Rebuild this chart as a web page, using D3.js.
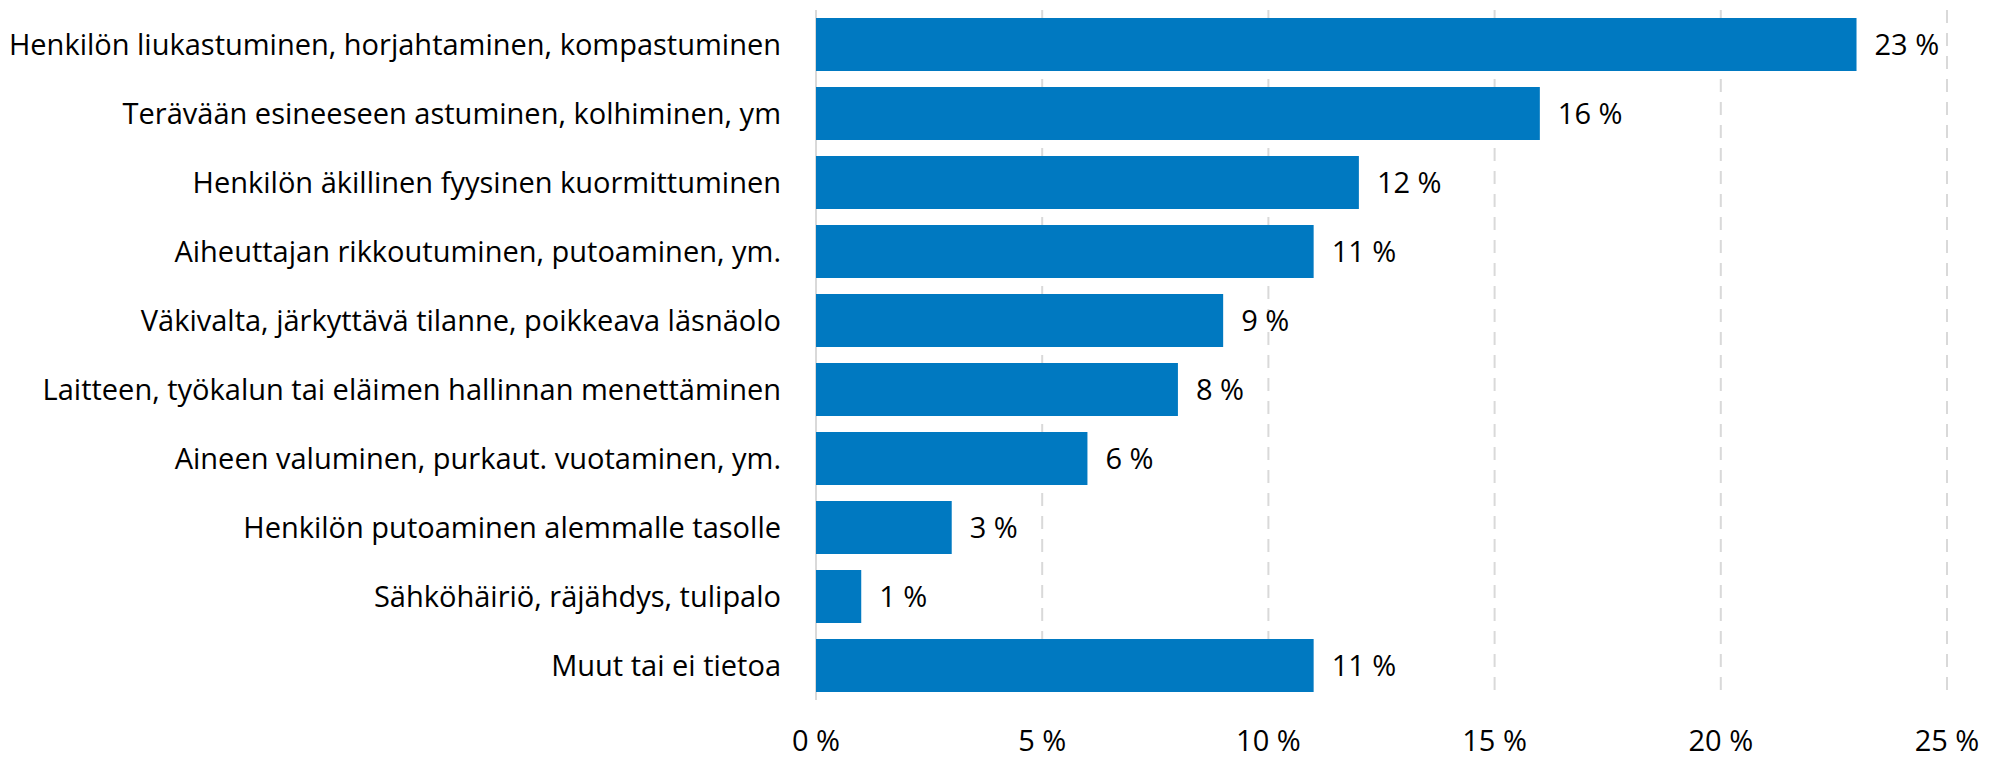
<!DOCTYPE html>
<html>
<head>
<meta charset="utf-8">
<script src="https://cdn.jsdelivr.net/npm/d3@7"></script>
<style>
  body { margin: 0; background: #fff; }
  text { font-family: "Open Sans", "Noto Sans", sans-serif; fill: #000; }
</style>
</head>
<body>
<div id="chart"></div>
<script>
(function(){

const categories = [
  "Henkilön liukastuminen, horjahtaminen, kompastuminen",
  "Terävään esineeseen astuminen, kolhiminen, ym",
  "Henkilön äkillinen fyysinen kuormittuminen",
  "Aiheuttajan rikkoutuminen, putoaminen, ym.",
  "Väkivalta, järkyttävä tilanne, poikkeava läsnäolo",
  "Laitteen, työkalun tai eläimen hallinnan menettäminen",
  "Aineen valuminen, purkaut. vuotaminen, ym.",
  "Henkilön putoaminen alemmalle tasolle",
  "Sähköhäiriö, räjähdys, tulipalo",
  "Muut tai ei tietoa"
];
const values = [23, 16, 12, 11, 9, 8, 6, 3, 1, 11];
const ticks = [0, 5, 10, 15, 20, 25];

const width = 1999;
const height = 760;
const margin = { top: 10, right: 52, bottom: 60, left: 816 };
const fontSize = "29px";

const svg = d3.select("#chart").append("svg")
    .attr("width", width)
    .attr("height", height);

const x = d3.scaleLinear()
    .domain([0, 25])
    .range([margin.left, width - margin.right]);

const y = d3.scaleBand()
    .domain(categories)
    .range([margin.top, height - margin.bottom])
    .paddingInner(0.232)
    .paddingOuter(0.116);

// Gridlines
svg.append("g")
    .selectAll("line")
    .data(ticks)
    .enter().append("line")
    .attr("x1", d => x(d))
    .attr("x2", d => x(d))
    .attr("y1", margin.top)
    .attr("y2", height - margin.bottom)
    .style("stroke", "#d9d9d9")
    .style("stroke-width", 2)
    .style("stroke-dasharray", d => d === 0 ? null : "13,10");

// Bars
svg.append("g")
    .selectAll("rect")
    .data(values)
    .enter().append("rect")
    .attr("x", x(0))
    .attr("y", (d, i) => y(categories[i]))
    .attr("width", d => x(d) - x(0))
    .attr("height", y.bandwidth())
    .style("fill", "#0079c1");

// Value labels
svg.append("g")
    .selectAll("text")
    .data(values)
    .enter().append("text")
    .attr("x", d => x(d) + 18)
    .attr("y", (d, i) => y(categories[i]) + y.bandwidth() / 2)
    .attr("dy", "0.36em")
    .style("font-size", fontSize)
    .text(d => d + " %");

// Category labels
svg.append("g")
    .selectAll("text")
    .data(categories)
    .enter().append("text")
    .attr("x", x(0) - 35)
    .attr("y", d => y(d) + y.bandwidth() / 2)
    .attr("dy", "0.36em")
    .attr("text-anchor", "end")
    .style("font-size", fontSize)
    .text(d => d);

// X axis tick labels
svg.append("g")
    .selectAll("text")
    .data(ticks)
    .enter().append("text")
    .attr("x", d => x(d))
    .attr("y", 751)
    .attr("text-anchor", "middle")
    .style("font-size", fontSize)
    .text(d => d + " %");

})();
</script>
</body>
</html>
